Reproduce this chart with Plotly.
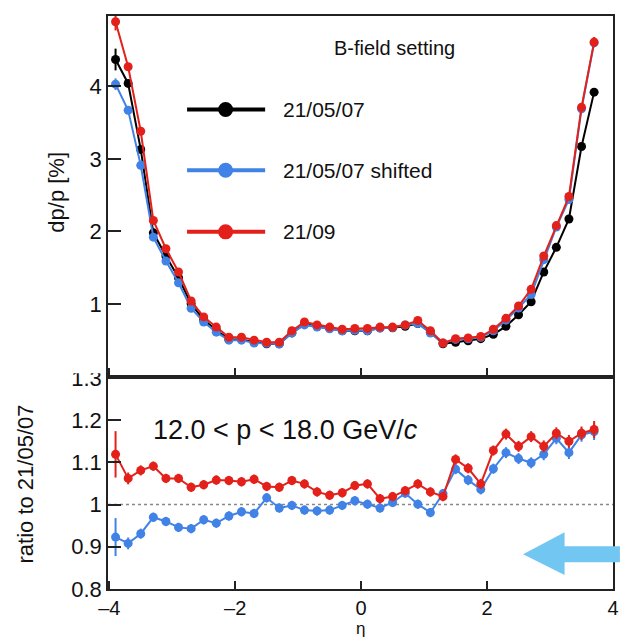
import plotly.graph_objects as go

# ---------------- data ----------------
eta = [-3.9, -3.7, -3.5, -3.3, -3.1, -2.9, -2.7, -2.5, -2.3, -2.1, -1.9, -1.7, -1.5,
       -1.3, -1.1, -0.9, -0.7, -0.5, -0.3, -0.1, 0.1, 0.3, 0.5, 0.7, 0.9, 1.1, 1.3,
       1.5, 1.7, 1.9, 2.1, 2.3, 2.5, 2.7, 2.9, 3.1, 3.3, 3.5, 3.7]

dpp_210507 = [4.37, 4.04, 3.13, 1.98, 1.66, 1.36, 1.00, 0.78, 0.64, 0.51, 0.51, 0.47, 0.45,
              0.45, 0.60, 0.72, 0.69, 0.665, 0.63, 0.63, 0.63, 0.67, 0.67, 0.69, 0.73, 0.61, 0.45,
              0.47, 0.49, 0.52, 0.58, 0.69, 0.85, 1.03, 1.44, 1.78, 2.17, 3.17, 3.92]
dpp_210507_shifted = [4.03, 3.67, 2.91, 1.92, 1.59, 1.29, 0.94, 0.75, 0.61, 0.50, 0.50, 0.46, 0.457,
                      0.446, 0.60, 0.71, 0.68, 0.656, 0.629, 0.636, 0.631, 0.665, 0.673, 0.709, 0.731, 0.598, 0.462,
                      0.51, 0.518, 0.539, 0.629, 0.775, 0.943, 1.13, 1.61, 2.06, 2.44, 3.69, 4.60]
dpp_2109 = [4.89, 4.27, 3.38, 2.15, 1.76, 1.44, 1.04, 0.82, 0.68, 0.54, 0.54, 0.50, 0.47,
            0.47, 0.63, 0.75, 0.71, 0.68, 0.65, 0.66, 0.66, 0.68, 0.68, 0.71, 0.77, 0.63, 0.46,
            0.52, 0.53, 0.55, 0.65, 0.80, 0.97, 1.20, 1.66, 2.08, 2.48, 3.71, 4.61]

err_210507 = [0.15, 0.05, 0.03, 0.02, 0.02, 0.01, 0.01, 0.01, 0.01, 0.01, 0.01, 0.01, 0.01,
              0.01, 0.01, 0.01, 0.01, 0.01, 0.01, 0.01, 0.01, 0.01, 0.01, 0.01, 0.01, 0.01, 0.01,
              0.01, 0.01, 0.01, 0.01, 0.01, 0.01, 0.02, 0.02, 0.02, 0.03, 0.04, 0.05]
err_210507_shifted = [0.08, 0.04, 0.03, 0.02, 0.02, 0.01, 0.01, 0.01, 0.01, 0.01, 0.01, 0.01, 0.01,
                      0.01, 0.01, 0.01, 0.01, 0.01, 0.01, 0.01, 0.01, 0.01, 0.01, 0.01, 0.01, 0.01, 0.01,
                      0.01, 0.01, 0.01, 0.01, 0.01, 0.01, 0.02, 0.02, 0.02, 0.03, 0.04, 0.06]
err_2109 = [0.12, 0.05, 0.03, 0.02, 0.02, 0.01, 0.01, 0.01, 0.01, 0.01, 0.01, 0.01, 0.01,
            0.01, 0.01, 0.01, 0.01, 0.01, 0.01, 0.01, 0.01, 0.01, 0.01, 0.01, 0.01, 0.01, 0.01,
            0.01, 0.01, 0.01, 0.01, 0.01, 0.01, 0.02, 0.02, 0.02, 0.03, 0.04, 0.07]

ratio_shifted = [0.923, 0.908, 0.931, 0.970, 0.960, 0.946, 0.943, 0.964, 0.956, 0.973, 0.983, 0.979, 1.016,
                 0.992, 0.998, 0.987, 0.985, 0.987, 0.998, 1.009, 1.001, 0.992, 1.005, 1.027, 1.001, 0.981, 1.026,
                 1.084, 1.058, 1.036, 1.085, 1.123, 1.109, 1.099, 1.119, 1.157, 1.123, 1.165, 1.173]
ratio_2109 = [1.119, 1.062, 1.081, 1.091, 1.062, 1.062, 1.041, 1.047, 1.058, 1.057, 1.054, 1.060, 1.043,
              1.041, 1.057, 1.049, 1.030, 1.022, 1.028, 1.045, 1.049, 1.014, 1.019, 1.033, 1.049, 1.030, 1.019,
              1.107, 1.086, 1.049, 1.128, 1.167, 1.138, 1.161, 1.138, 1.169, 1.150, 1.169, 1.178]
err_ratio_shifted = [0.045, 0.014, 0.012, 0.011, 0.011, 0.011, 0.011, 0.011, 0.011, 0.011, 0.011, 0.011, 0.011,
                     0.011, 0.011, 0.011, 0.011, 0.011, 0.011, 0.011, 0.011, 0.011, 0.011, 0.011, 0.011, 0.011, 0.011,
                     0.012, 0.012, 0.012, 0.012, 0.013, 0.013, 0.013, 0.014, 0.014, 0.015, 0.016, 0.02]
err_ratio_2109 = [0.055, 0.014, 0.012, 0.011, 0.011, 0.011, 0.011, 0.011, 0.011, 0.011, 0.011, 0.011, 0.011,
                  0.011, 0.011, 0.011, 0.011, 0.011, 0.011, 0.011, 0.011, 0.011, 0.011, 0.011, 0.011, 0.011, 0.011,
                  0.012, 0.012, 0.012, 0.012, 0.013, 0.013, 0.013, 0.014, 0.014, 0.015, 0.016, 0.02]

series_names = ["21/05/07", "21/05/07 shifted", "21/09"]
x_tickvals = [-4, -2, 0, 2, 4]
x_ticktext = ["\u20134", "\u20132", "0", "2", "4"]
top_tickvals = [1, 2, 3, 4]
ratio_tickvals = [0.8, 0.9, 1.0, 1.1, 1.2, 1.3]
ratio_ticktext = ["0.8", "0.9", "1", "1.1", "1.2", "1.3"]

# ---------------- style ----------------
BLACK = "#000000"
BLUE = "#4082e6"
RED = "#e3211a"
ARROW = "#72c6f2"
FONT = "Liberation Sans, Arial, sans-serif"
colors = [BLACK, BLUE, RED]

W, H = 624, 639
L, R, T, B = 108, 5, 13, 50
PW, PH = W - L - R, H - T - B


def px(x):
    return (x - L) / PW


def py(y):
    return (H - B - y) / PH


split = py(376)

fig = go.Figure()


def add(y, err, color, xa, ya):
    fig.add_trace(go.Scatter(
        x=eta, y=y, mode="lines+markers", xaxis=xa, yaxis=ya, showlegend=False,
        line=dict(color=color, width=2),
        marker=dict(color=color, size=9),
        error_y=dict(type="data", array=err, color=color, thickness=2, width=0),
    ))


add(dpp_210507, err_210507, BLACK, "x", "y")
add(dpp_210507_shifted, err_210507_shifted, BLUE, "x", "y")
add(dpp_2109, err_2109, RED, "x", "y")
add(ratio_shifted, err_ratio_shifted, BLUE, "x2", "y2")
add(ratio_2109, err_ratio_2109, RED, "x2", "y2")

axc = dict(showline=True, linecolor="#222", linewidth=1.5, mirror=True, ticks="inside",
           tickcolor="#222", tickwidth=1.5, showgrid=False, zeroline=False)
yfont = dict(family=FONT, size=22, color="#111")
xfont = dict(family=FONT, size=20, color="#111")

fig.update_layout(
    width=W, height=H,
    margin=dict(l=L, r=R, t=T, b=B),
    paper_bgcolor="white", plot_bgcolor="white",
    showlegend=False,
    xaxis=dict(domain=[0, 1], anchor="y", range=[-4.02, 4.0], tickvals=x_tickvals,
               showticklabels=False, ticklen=9, tickfont=xfont, **axc),
    xaxis2=dict(domain=[0, 1], anchor="y2", range=[-4.02, 4.0], tickvals=x_tickvals,
                ticktext=x_ticktext, ticklen=8, tickfont=xfont, **axc),
    yaxis=dict(domain=[split, 1], anchor="x", range=[-0.01, 4.97], tickvals=top_tickvals,
               ticklen=13, tickfont=yfont, **axc),
    yaxis2=dict(domain=[0, split], anchor="x2", range=[0.8, 1.302], tickvals=ratio_tickvals,
                ticktext=ratio_ticktext, ticklen=13, tickfont=yfont, **axc),
)

shapes = []
# reference line at ratio 1
shapes.append(dict(type="line", xref="x2", yref="y2", x0=-4.02, x1=4.0, y0=1, y1=1,
                   line=dict(color="#888", width=1.5, dash="dot"), layer="below"))
# cover for the clipped 1.3 label (hidden under the upper pad in the original)
shapes.append(dict(type="rect", xref="paper", yref="paper", x0=px(55), x1=px(106),
                   y0=py(372), y1=py(355), fillcolor="white", line=dict(width=0), layer="above"))

annotations = []
# legend
leg_y = [107, 168, 230]
for name, c, yy in zip(series_names, colors, leg_y):
    shapes.append(dict(type="line", xref="paper", yref="paper", x0=px(188), x1=px(267),
                       y0=py(yy), y1=py(yy), line=dict(color=c, width=4), layer="above"))
    shapes.append(dict(type="circle", xref="paper", yref="paper", xsizemode="pixel",
                       ysizemode="pixel", xanchor=px(227), yanchor=py(yy),
                       x0=-7.5, x1=7.5, y0=-7.5, y1=7.5, fillcolor=c,
                       line=dict(width=0), layer="above"))
    annotations.append(dict(text=name, xref="paper", yref="paper", x=px(283), y=py(yy),
                            xanchor="left", yanchor="middle", showarrow=False,
                            font=dict(family=FONT, size=21, color="#111")))
annotations.append(dict(text="B-field setting", xref="paper", yref="paper", x=px(398), y=py(45),
                        xanchor="center", yanchor="middle", showarrow=False,
                        font=dict(family=FONT, size=20, color="#111")))
annotations.append(dict(text="12.0 < p < 18.0 GeV/<i>c</i>", xref="paper", yref="paper",
                        x=px(152), y=py(429), xanchor="left", yanchor="middle", showarrow=False,
                        font=dict(family=FONT, size=27, color="#111")))
annotations.append(dict(text="dp/p [%]", xref="paper", yref="paper", x=px(55), y=py(190),
                        textangle=-90, xanchor="center", yanchor="middle", showarrow=False,
                        font=dict(family=FONT, size=22, color="#111")))
annotations.append(dict(text="ratio to 21/05/07", xref="paper", yref="paper", x=px(25), y=py(483),
                        textangle=-90, xanchor="center", yanchor="middle", showarrow=False,
                        font=dict(family=FONT, size=22, color="#111")))
annotations.append(dict(text="\u03b7", xref="paper", yref="paper", x=px(364), y=py(638.8),
                        xanchor="center", yanchor="bottom", showarrow=False, borderpad=0,
                        font=dict(family=FONT, size=17, color="#111")))

# arrow
pts = [(528, 554), (570, 532), (570, 546), (626, 546), (626, 562), (570, 562), (570, 575)]
path = "M " + " L ".join(f"{px(a):.5f},{py(b):.5f}" for a, b in pts) + " Z"
shapes.append(dict(type="path", xref="paper", yref="paper", path=path, fillcolor=ARROW,
                   line=dict(width=0), layer="above"))

fig.update_layout(shapes=shapes, annotations=annotations)
fig.write_html("out.html")
